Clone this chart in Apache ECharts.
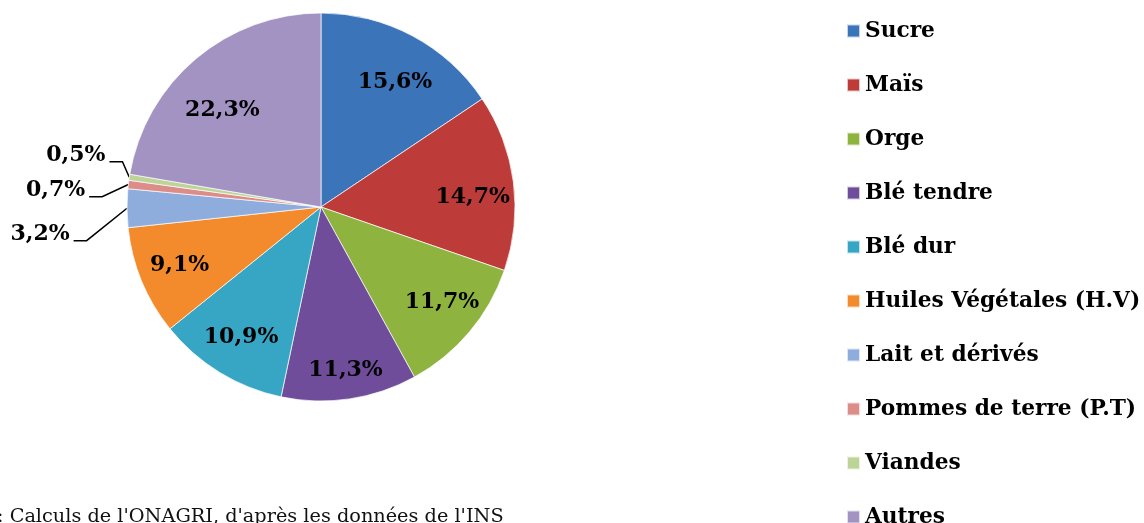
<!DOCTYPE html>
<html>
<head>
<meta charset="utf-8">
<script src="https://cdn.jsdelivr.net/npm/echarts@6/dist/echarts.min.js"></script>
<style>
  html, body { margin: 0; padding: 0; background: #fff; }
  #main { width: 1144px; height: 523px; }
</style>
</head>
<body>
<div id="main"></div>
<script>
var categories = ['Sucre', 'Maïs', 'Orge', 'Blé tendre', 'Blé dur', 'Huiles Végétales (H.V)',
                  'Lait et dérivés', 'Pommes de terre (P.T)', 'Viandes', 'Autres'];
var shares = [15.6, 14.7, 11.7, 11.3, 10.9, 9.1, 3.2, 0.7, 0.5, 22.3];
var colors = ['#3b74b8', '#bd3c39', '#8fb33f', '#6f4d9a', '#36a6c4', '#f38a2c',
              '#8eaddd', '#dc8c89', '#bcd497', '#a393c3'];
var sourceNote = ": Calculs de l'ONAGRI, d'après les données de l'INS";

var serif = 'DejaVu Serif';
function pct(v) { return v.toFixed(1).replace('.', ',') + '%'; }

var mainData = categories.map(function (name, i) {
  var small = shares[i] < 5;
  return {
    name: name,
    value: shares[i],
    itemStyle: { color: colors[i] },
    label: { show: small },
    labelLine: { show: small }
  };
});
var innerData = categories.map(function (name, i) {
  return { name: name, value: shares[i], label: { show: shares[i] >= 5 } };
});

// small nudges so labels sit where the original "best fit" put them
var outerNudge = { 6: [-30, 11], 7: [-14, -9], 8: [4, -20] };
var innerNudge = { 0: [2, 10], 1: [0, 10], 2: [4, -3], 3: [2, 12], 9: [0, 20] };

var chart = echarts.init(document.getElementById('main'));
var option = {
  animation: false,
  color: colors,
  legend: {
    orient: 'vertical',
    left: 841,
    top: 15,
    height: 560,
    itemWidth: 13,
    itemHeight: 13,
    itemGap: 32,
    icon: 'rect',
    data: categories,
    textStyle: { fontFamily: serif, fontWeight: 'bold', fontSize: 21.7, color: '#000', lineHeight: 22 }
  },
  graphic: [{
    type: 'text',
    left: -3,
    top: 507,
    style: { text: sourceNote, fontFamily: serif, fontSize: 19.3, fill: '#111' }
  }],
  series: [{
    type: 'pie',
    center: [321, 207],
    radius: 194,
    startAngle: 90,
    clockwise: true,
    data: mainData,
    itemStyle: { borderColor: 'rgba(255,255,255,0.7)', borderWidth: 1 },
    label: {
      position: 'outside',
      formatter: function (p) { return pct(p.value); },
      fontFamily: serif, fontWeight: 'bold', fontSize: 22, color: '#000'
    },
    labelLine: { length: 14, length2: 14, lineStyle: { color: '#000', width: 1.5 } },
    labelLayout: function (p) {
      var n = outerNudge[p.dataIndex];
      if (!n || !p.labelLinePoints) return {};
      var r = p.labelRect;
      var anchor = p.labelLinePoints[0];
      var endX = r.x + r.width + n[0] + 4;
      var endY = r.y + r.height * 0.8 + n[1];
      return {
        dx: n[0],
        dy: n[1],
        labelLinePoints: [anchor, [endX + 13, endY], [endX, endY]]
      };
    },
    emphasis: { disabled: true }
  }, {
    type: 'pie',
    silent: true,
    center: [321, 207],
    radius: [106, 194],
    startAngle: 90,
    clockwise: true,
    data: innerData,
    itemStyle: { color: 'rgba(0,0,0,0)' },
    label: {
      position: 'inside',
      formatter: function (p) { return pct(p.value); },
      fontFamily: serif, fontWeight: 'bold', fontSize: 22, color: '#000'
    },
    labelLine: { show: false },
    labelLayout: function (p) {
      var n = innerNudge[p.dataIndex];
      return n ? { dx: n[0], dy: n[1] } : {};
    },
    emphasis: { disabled: true }
  }]
};
chart.setOption(option);
</script>
</body>
</html>
